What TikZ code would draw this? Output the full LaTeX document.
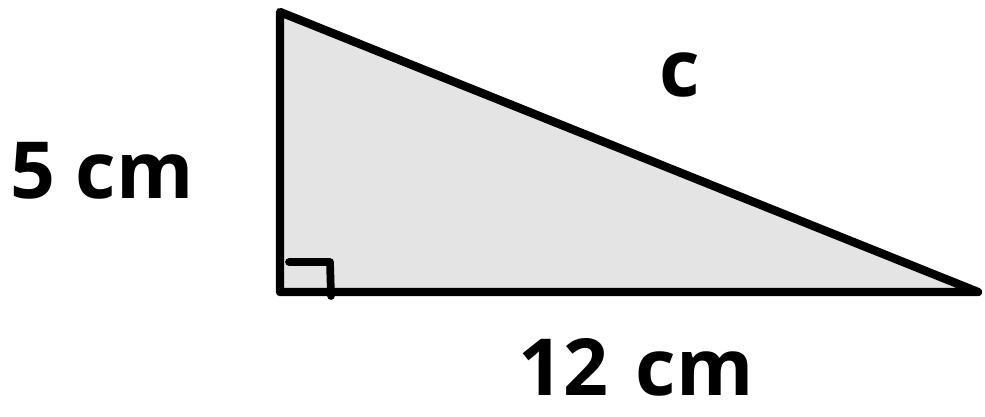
\documentclass[tikz,border=0pt]{standalone}
\usepackage{fontspec}
\setmainfont{Open Sans}
\usepackage{tikz}
\usetikzlibrary{positioning,calc}
\definecolor{shade}{RGB}{228,228,228}

\begin{document}
\begin{tikzpicture}[x=0.025cm,y=-0.025cm,
      edge/.style={draw=black,line width=6pt,line join=round,fill=shade},
      rightmark/.style={draw=black,line width=5.5pt,line cap=round,line join=round},
      lbl/.style={font=\fontsize{56}{62}\selectfont\bfseries,inner sep=0pt,anchor=base}]
      \useasboundingbox (0,0) rectangle (985,416);
      \coordinate (top) at (280,12);
      \coordinate (rt) at (280,292);
      \coordinate (tip) at (978,292);
      \filldraw[edge] (top) -- (rt) -- (tip) -- cycle;
      \draw[rightmark] (289,262) -- (330,262) -- (331,296);
      \node[lbl] (side) at (102,198) {5 cm};
      \node[lbl] (hyp) at (680,96) {c};
      \node[lbl] (base) at (636,395) {12\hspace{0.35em}cm};
    \end{tikzpicture}
\end{document}
